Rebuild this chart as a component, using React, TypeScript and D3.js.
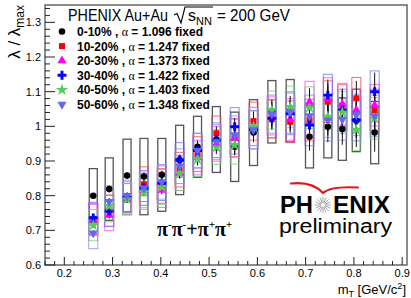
import React, { useEffect, useRef } from "react";
import * as d3 from "d3";

// m_T bin centres [GeV/c^2]
const mT = [0.26, 0.293, 0.33, 0.365, 0.402, 0.439, 0.476, 0.515, 0.553, 0.592, 0.63, 0.668, 0.708, 0.746, 0.776, 0.805, 0.843];

// lambda / lambda_max per centrality
const cent0010 = [0.8, 0.819, 0.858, 0.855, 0.86, 0.903, 0.941, 0.962, 0.941, 0.982, 1.042, 1.045, 0.97, 0.999, 0.992, 1.017, 0.982];
const cent1020 = [0.733, 0.757, 0.79, 0.833, 0.828, 0.875, 0.92, 0.98, 0.967, 1.015, 1.021, 1.013, 1.018, 1.071, 1.06, 1.081, 1.047];
const cent2030 = [0.73, 0.744, 0.79, 0.815, 0.816, 0.865, 0.91, 0.95, 0.966, 1.0, 1.03, 1.02, 1.07, 1.08, 1.064, 1.047, 1.061];
const cent3040 = [0.736, 0.756, 0.795, 0.822, 0.836, 0.903, 0.93, 0.96, 0.999, 0.99, 1.023, 1.036, 1.004, 1.09, 1.047, 1.018, 1.1];
const cent4050 = [0.715, 0.77, 0.79, 0.81, 0.825, 0.865, 0.905, 0.94, 0.946, 0.999, 1.047, 1.056, 1.054, 1.028, 1.04, 0.99, 1.023];
const cent5060 = [0.692, 0.783, 0.8, 0.822, 0.84, 0.885, 0.93, 0.955, 0.975, 0.99, 1.035, 1.04, 1.03, 1.018, 1.02, 1.033, 1.03];

// errors (half widths)
const statErr = [0.008, 0.01, 0.01, 0.012, 0.012, 0.015, 0.018, 0.02, 0.025, 0.028, 0.03, 0.032, 0.04, 0.045, 0.045, 0.05, 0.055];
const sysCentral = [0.078, 0.09, 0.105, 0.11, 0.105, 0.1, 0.088, 0.095, 0.1, 0.095, 0.09, 0.09, 0.09, 0.09, 0.09, 0.09, 0.09];
const sysPeripheral = [0.045, 0.045, 0.045, 0.05, 0.05, 0.05, 0.05, 0.05, 0.055, 0.055, 0.055, 0.06, 0.06, 0.06, 0.06, 0.06, 0.06];

const centLabels = ["0-10%", "10-20%", "20-30%", "30-40%", "40-50%", "50-60%"];
const alphaLabels = ["1.096", "1.247", "1.373", "1.422", "1.403", "1.348"];
const xTicks = [0.2, 0.3, 0.4, 0.5, 0.6, 0.7, 0.8, 0.9];
const yTicks = [0.6, 0.7, 0.8, 0.9, 1, 1.1, 1.2, 1.3];

const seriesValues = [cent0010, cent1020, cent2030, cent3040, cent4050, cent5060];
const colors = ["#000000", "#ff0000", "#ff00ff", "#0000ff", "#55cc55", "#6666ee"];
const boxColors = ["#555555", "#ff4444", "#ff44ff", "#7777ff", "#77cc77", "#8888ee"];

const symbols = [
  { type: d3.symbolCircle, size: 34, rot: 0 },
  { type: d3.symbolSquare, size: 36, rot: 0 },
  { type: d3.symbolTriangle, size: 36, rot: 0 },
  { type: d3.symbolCross, size: 44, rot: 0 },
  { type: d3.symbolStar, size: 46, rot: 0 },
  { type: d3.symbolTriangle, size: 36, rot: 180 },
];

const W = 411;
const H = 298;
const sans = "'Liberation Sans', Arial, Helvetica, sans-serif";

const App = () => {
  const svgRef = useRef<SVGSVGElement>(null);

  useEffect(() => {
    const svg = d3.select(svgRef.current);
    svg.selectAll("*").remove();

    const x = d3.scaleLinear().domain([0.16, 0.91]).range([45, 407]);
    const y = d3.scaleLinear().domain([0.6, 1.35]).range([265, 5]);

    // frame
    svg
      .append("rect")
      .attr("x", 45)
      .attr("y", 5)
      .attr("width", 362)
      .attr("height", 260)
      .attr("fill", "none")
      .attr("stroke", "#666")
      .attr("stroke-width", 1.5);

    // ticks
    const xMinor = d3.range(0.16, 0.911, 0.02).map((v) => +v.toFixed(2));
    const yMinor = d3.range(0.6, 1.351, 0.02).map((v) => +v.toFixed(2));
    const isMajor = (v, arr) => arr.some((t) => Math.abs(t - v) < 1e-6);

    svg
      .append("g")
      .selectAll("line")
      .data(xMinor)
      .join("line")
      .attr("x1", (d) => x(d))
      .attr("x2", (d) => x(d))
      .attr("y1", 265)
      .attr("y2", (d) => 265 - (isMajor(d, xTicks) ? 8 : 4))
      .attr("stroke", "#222");

    svg
      .append("g")
      .selectAll("line")
      .data(yMinor)
      .join("line")
      .attr("y1", (d) => y(d))
      .attr("y2", (d) => y(d))
      .attr("x1", 45)
      .attr("x2", (d) => 45 + (isMajor(d, yTicks) ? 10 : 5))
      .attr("stroke", "#222");

    svg
      .append("g")
      .selectAll("text")
      .data(xTicks)
      .join("text")
      .attr("x", (d) => x(d))
      .attr("y", 277)
      .attr("text-anchor", "middle")
      .attr("font-family", sans)
      .attr("font-size", 11)
      .text((d) => d3.format(".1f")(d));

    svg
      .append("g")
      .selectAll("text")
      .data(yTicks)
      .join("text")
      .attr("x", 41)
      .attr("y", (d) => y(d) + 4)
      .attr("text-anchor", "end")
      .attr("font-family", sans)
      .attr("font-size", 11)
      .text((d) => (d === 1 ? "1" : d3.format(".1f")(d)));

    // axis titles
    const yt = svg
      .append("text")
      .attr("transform", "translate(20,5) rotate(-90)")
      .attr("text-anchor", "end")
      .attr("font-family", sans)
      .attr("font-size", 17);
    yt.append("tspan").text("λ / λ");
    yt.append("tspan").attr("font-size", 12).attr("dy", 4).text("max");

    const xt = svg
      .append("text")
      .attr("x", 406)
      .attr("y", 294)
      .attr("text-anchor", "end")
      .attr("font-family", sans)
      .attr("font-size", 13);
    xt.append("tspan").text("m");
    xt.append("tspan").attr("font-size", 9).attr("dy", 3).text("T");
    xt.append("tspan").attr("dy", -3).text(" [GeV/c");
    xt.append("tspan").attr("font-size", 9).attr("dy", -5).text("2");
    xt.append("tspan").attr("dy", 5).text("]");

    const plot = svg.append("g");

    // systematic boxes
    seriesValues.forEach((vals, s) => {
      const sys = s === 0 ? sysCentral : sysPeripheral;
      const bw = s === 0 ? 8 : 9;
      plot
        .append("g")
        .selectAll("rect")
        .data(vals)
        .join("rect")
        .attr("x", (d, i) => x(mT[i]) - bw / 2)
        .attr("y", (d, i) => y(d + sys[i]))
        .attr("width", bw)
        .attr("height", (d, i) => y(d - sys[i]) - y(d + sys[i]))
        .attr("fill", "none")
        .attr("stroke", boxColors[s])
        .attr("stroke-width", s === 0 ? 1.3 : 1)
        .attr("stroke-opacity", s === 0 ? 1 : 0.8);
    });

    // stat error bars
    seriesValues.forEach((vals) => {
      const g = plot.append("g").attr("stroke", "#111").attr("stroke-width", 1);
      g.selectAll("line")
        .data(vals)
        .join("line")
        .attr("x1", (d, i) => x(mT[i]))
        .attr("x2", (d, i) => x(mT[i]))
        .attr("y1", (d, i) => y(d + statErr[i]))
        .attr("y2", (d, i) => y(d - statErr[i]));
    });

    // markers
    seriesValues.forEach((vals, s) => {
      const sym = d3.symbol().type(symbols[s].type).size(symbols[s].size);
      plot
        .append("g")
        .selectAll("path")
        .data(vals)
        .join("path")
        .attr("d", sym)
        .attr("transform", (d, i) => `translate(${x(mT[i])},${y(d)}) rotate(${symbols[s].rot})`)
        .attr("fill", colors[s]);
    });

    // legend header
    const header = svg.append("g").attr("font-family", sans).attr("font-size", 16);
    header
      .append("text")
      .attr("x", 68)
      .attr("y", 21)
      .attr("textLength", 100)
      .attr("lengthAdjust", "spacingAndGlyphs")
      .text("PHENIX Au+Au");
    // square root sign drawn as a path
    header
      .append("path")
      .attr("d", "M174,15 L177,13.5 L181,23 L185,7 L213,7")
      .attr("fill", "none")
      .attr("stroke", "#000")
      .attr("stroke-width", 1.1);
    const sNN = header.append("text").attr("x", 188).attr("y", 21);
    sNN.append("tspan").text("s");
    sNN.append("tspan").attr("font-size", 11).attr("dy", 4).text("NN");
    header
      .append("text")
      .attr("x", 217)
      .attr("y", 21)
      .attr("textLength", 73)
      .attr("lengthAdjust", "spacingAndGlyphs")
      .text("= 200 GeV");

    centLabels.forEach((lab, s) => {
      const ry = 31.5 + s * 14.6;
      const sym = d3.symbol().type(symbols[s].type).size(symbols[s].size);
      svg
        .append("path")
        .attr("d", sym)
        .attr("transform", `translate(62,${ry}) rotate(${symbols[s].rot})`)
        .attr("fill", colors[s]);
      const t = svg
        .append("text")
        .attr("x", 77)
        .attr("y", ry + 4.5)
        .attr("font-family", sans)
        .attr("font-size", 12)
        .attr("font-weight", "bold");
      t.append("tspan").text(`${lab} , `);
      t.append("tspan").attr("font-weight", "normal").attr("font-family", "'Liberation Serif', serif").text("α");
      t.append("tspan").text(` = ${alphaLabels[s]} fixed`);
    });

    // pion pair label
    const pi = svg
      .append("text")
      .attr("x", 157)
      .attr("y", 236)
      .attr("font-family", "'Liberation Serif', 'Times New Roman', serif")
      .attr("font-size", 20)
      .attr("font-weight", "bold");
    pi.append("tspan").text("π");
    pi.append("tspan").attr("font-size", 11).attr("dy", -8).text("-");
    pi.append("tspan").attr("dy", 8).text("π");
    pi.append("tspan").attr("font-size", 11).attr("dy", -8).text("-");
    pi.append("tspan").attr("dy", 8).text("+π");
    pi.append("tspan").attr("font-size", 11).attr("dy", -8).text("+");
    pi.append("tspan").attr("dy", 8).text("π");
    pi.append("tspan").attr("font-size", 11).attr("dy", -8).text("+");

    // PHENIX logo
    const logo = svg.append("g");
    logo
      .append("path")
      .attr("d", "M291,183.5 Q312,181 323,193 Q331,186 358,187.5")
      .attr("fill", "none")
      .attr("stroke", "#e8141c")
      .attr("stroke-width", 2.2)
      .attr("stroke-linecap", "round");
    logo
      .append("text")
      .attr("x", 280)
      .attr("y", 213)
      .attr("font-family", sans)
      .attr("font-weight", "bold")
      .attr("font-size", 23)
      .attr("textLength", 33)
      .attr("lengthAdjust", "spacingAndGlyphs")
      .text("PH");
    logo
      .append("text")
      .attr("x", 333)
      .attr("y", 213)
      .attr("font-family", sans)
      .attr("font-weight", "bold")
      .attr("font-size", 23)
      .attr("textLength", 57)
      .attr("lengthAdjust", "spacingAndGlyphs")
      .text("ENIX");
    const rays = d3.range(16).map((k) => (k * Math.PI) / 8);
    logo
      .append("g")
      .selectAll("line")
      .data(rays)
      .join("line")
      .attr("x1", (a) => 323 + 2 * Math.cos(a))
      .attr("y1", (a) => 205 + 2 * Math.sin(a))
      .attr("x2", (a) => 323 + 8 * Math.cos(a))
      .attr("y2", (a) => 205 + 8 * Math.sin(a))
      .attr("stroke", "#999")
      .attr("stroke-width", 0.9);
    logo
      .append("text")
      .attr("x", 279)
      .attr("y", 233)
      .attr("font-family", sans)
      .attr("font-size", 20)
      .attr("textLength", 113)
      .attr("lengthAdjust", "spacingAndGlyphs")
      .text("preliminary");
  }, []);

  return (
    <svg
      ref={svgRef}
      width={W}
      height={H}
      style={{ position: "absolute", left: 0, top: 0, background: "#fff" }}
    />
  );
};

export default App;
